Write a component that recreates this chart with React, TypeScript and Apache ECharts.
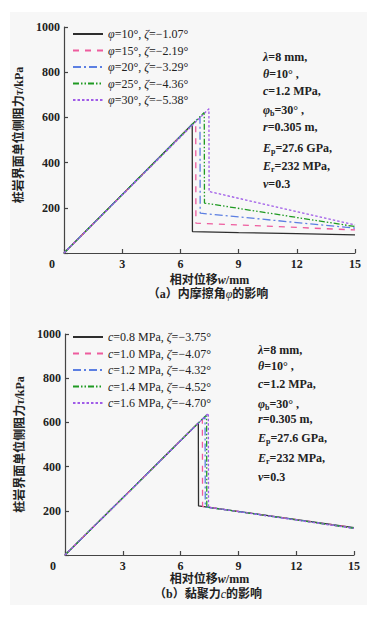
import React, { useEffect, useRef } from 'react';
import * as echarts from 'echarts';

// ---------- data ----------
const xTicks = [0, 3, 6, 9, 12, 15];
const yTicks = [0, 200, 400, 600, 800, 1000];

// (a) influence of internal friction angle φ
const phiNames = ['φ=10°, ζ=−1.07°', 'φ=15°, ζ=−2.19°', 'φ=20°, ζ=−3.29°', 'φ=25°, ζ=−4.36°', 'φ=30°, ζ=−5.38°'];
const phi10W = [0, 6.61, 6.62, 9, 12, 15];
const phi10Tau = [0, 570, 95, 90, 86, 80];
const phi15W = [0, 6.79, 6.8, 15];
const phi15Tau = [0, 585, 132, 102];
const phi20W = [0, 7.01, 7.02, 15];
const phi20Tau = [0, 604, 176, 110];
const phi25W = [0, 7.23, 7.24, 15];
const phi25Tau = [0, 622, 221, 117];
const phi30W = [0, 7.47, 7.48, 15];
const phi30Tau = [0, 638, 272, 124];

// (b) influence of cohesion c
const cNames = ['c=0.8 MPa, ζ=−3.75°', 'c=1.0 MPa, ζ=−4.07°', 'c=1.2 MPa, ζ=−4.32°', 'c=1.4 MPa, ζ=−4.52°', 'c=1.6 MPa, ζ=−4.70°'];
const c08W = [0, 6.92, 6.93, 15];
const c08Tau = [0, 597, 222, 124];
const c10W = [0, 7.13, 7.14, 15];
const c10Tau = [0, 615, 220, 123];
const c12W = [0, 7.27, 7.28, 15];
const c12Tau = [0, 627, 218, 122];
const c14W = [0, 7.35, 7.36, 15];
const c14Tau = [0, 634, 217, 121];
const c16W = [0, 7.44, 7.45, 15];
const c16Tau = [0, 641, 216, 120];

const paramLines = [
  '{i|λ}=8 mm,',
  '{i|θ}=10° ,',
  '{i|c}=1.2 MPa,',
  '{i|φ}{s|b}=30° ,',
  '{i|r}=0.305 m,',
  '{i|E}{s|p}=27.6 GPa,',
  '{i|E}{s|r}=232 MPa,',
  '{i|ν}=0.3',
];

// ---------- styles ----------
const colors = ['#2e2e2e', '#ee5c9e', '#5c7fe2', '#1f9a22', '#a05ce8'];
const dashes: any[] = ['solid', [6, 6], [8, 3, 2, 3], [6, 2, 1.5, 2, 1.5, 2], [2.5, 2]];
const SERIF = '"Liberation Serif", "Times New Roman", serif';
const MIX = '"Liberation Serif", "Noto Sans CJK SC", serif';

const zip = (a: number[], b: number[]) => a.map((v, i) => [v, b[i]]);

export default function App() {
  const ref = useRef<HTMLDivElement>(null);
  useEffect(() => {
    if (!ref.current) return;
    const chart = echarts.init(ref.current, null, { renderer: 'svg' });

    const phiData = [zip(phi10W, phi10Tau), zip(phi15W, phi15Tau), zip(phi20W, phi20Tau), zip(phi25W, phi25Tau), zip(phi30W, phi30Tau)];
    const cData = [zip(c08W, c08Tau), zip(c10W, c10Tau), zip(c12W, c12Tau), zip(c14W, c14Tau), zip(c16W, c16Tau)];

    const mkSeries = (names: string[], data: number[][][], idx: number) =>
      names.map((n, i) => ({
        name: n,
        type: 'line',
        xAxisIndex: idx,
        yAxisIndex: idx,
        data: data[i],
        symbol: 'circle',
        showSymbol: false,
        color: colors[i],
        lineStyle: { color: colors[i], width: 1.3, type: dashes[i] },
        z: 2 + i,
      }));

    const axisLineStyle = { color: '#444', width: 1.2 };
    const tickLabel = { fontFamily: SERIF, fontWeight: 'bold', fontSize: 12, color: '#222' };

    const mkX = (idx: number, gap: number) => ({
      type: 'value',
      gridIndex: idx,
      min: 0,
      max: 15,
      interval: 3,
      name: '相对位移{i|w}/mm',
      nameLocation: 'middle',
      nameGap: gap,
      nameTextStyle: {
        fontFamily: MIX, fontSize: 12, fontWeight: 'bold', color: '#222', lineHeight: 12,
        rich: { i: { fontFamily: SERIF, fontStyle: 'italic', fontSize: 12, color: '#222', lineHeight: 12 } },
      },
      axisLine: { lineStyle: axisLineStyle },
      axisTick: { inside: true, length: 4, lineStyle: axisLineStyle },
      splitLine: { show: false },
      axisLabel: {
        ...tickLabel,
        margin: 5,
        formatter: (v: number) => (v === 0 ? '{o|0}' : String(v)),
        rich: { o: { ...tickLabel, padding: [0, 24, 0, 0] } },
      },
    });
    const mkY = (idx: number, gap: number, pad: number[]) => ({
      type: 'value',
      gridIndex: idx,
      min: 0,
      max: 1000,
      interval: 200,
      name: '桩岩界面单位侧阻力{i|τ}/kPa',
      nameLocation: 'middle',
      nameRotate: 90,
      nameGap: gap,
      nameTextStyle: {
        fontFamily: MIX, fontSize: 12, fontWeight: 'bold', color: '#222', padding: pad,
        rich: { i: { fontFamily: SERIF, fontStyle: 'italic', fontSize: 12, color: '#222' } },
      },
      axisLine: { lineStyle: axisLineStyle },
      axisTick: { inside: true, length: 4, lineStyle: axisLineStyle },
      splitLine: { show: false },
      axisLabel: { ...tickLabel, margin: 4, formatter: (v: number) => (v === 0 ? '' : String(v)) },
    });

    const legendCommon = {
      orient: 'vertical',
      itemWidth: 30,
      itemHeight: 10,
      itemGap: 2.5,
      padding: 0,
      itemStyle: { opacity: 0 },
      textStyle: {
        fontFamily: SERIF, fontSize: 12, color: '#222', lineHeight: 14,
        rich: { i: { fontFamily: SERIF, fontStyle: 'italic', fontSize: 12, color: '#222', lineHeight: 14 } },
      },
      formatter: (n: string) => n.replace(/^([φc])/, '{i|$1}').replace(/ζ/g, '{i|ζ}'),
    };

    const richParam = {
      i: { fontFamily: SERIF, fontStyle: 'italic', fontSize: 12, fontWeight: 'bold', fill: '#222', lineHeight: 14 },
      s: { fontFamily: SERIF, fontSize: 8, fontWeight: 'bold', fill: '#222', lineHeight: 14, verticalAlign: 'bottom' },
    };
    const topParamY = [57, 74, 91, 110, 127, 148, 166, 184];
    const botParamY = [350, 366, 384, 404, 419, 438, 458, 477];
    const paramTexts = (x: number, ys: number[]) =>
      paramLines.map((t, i) => ({
        type: 'text',
        x,
        y: ys[i],
        silent: true,
        style: {
          text: t,
          fontFamily: SERIF,
          fontSize: 12,
          fontWeight: 'bold',
          fill: '#222',
          lineHeight: 14,
          verticalAlign: 'middle',
          rich: richParam,
        },
      }));

    const caption = (y: number, text: string) => ({
      type: 'text',
      x: 208,
      y,
      silent: true,
      style: {
        text,
        fontFamily: MIX,
        fontSize: 12,
        fontWeight: 'bold',
        fill: '#222',
        align: 'center',
        verticalAlign: 'middle',
        lineHeight: 12,
        rich: { i: { fontFamily: SERIF, fontStyle: 'italic', fontSize: 12, fill: '#222', lineHeight: 12 } },
      },
    });

    chart.setOption({
      animation: false,
      backgroundColor: '#ffffff',
      grid: [
        { left: 64, top: 27, width: 291, height: 226 },
        { left: 65, top: 334, width: 289, height: 221 },
      ],
      xAxis: [mkX(0, 21), mkX(1, 18)],
      yAxis: [mkY(0, 19, [0, 0, 0, 10]), mkY(1, 20, [0, 0, 0, 0])],
      legend: [
        { ...legendCommon, left: 72, top: 27, data: phiNames },
        { ...legendCommon, left: 72, top: 330, data: cNames },
      ],
      series: [...mkSeries(phiNames, phiData, 0), ...mkSeries(cNames, cData, 1)],
      graphic: [
        { type: 'rect', z: -10, silent: true, shape: { x: 10, y: 12, width: 357, height: 593 }, style: { fill: '#f7f7f7' } },
        ...paramTexts(263, topParamY),
        ...paramTexts(258, botParamY),
        caption(294, '（a）内摩擦角{i|φ}的影响'),
        caption(594, '（b）黏聚力{i|c}的影响'),
      ],
    });
    return () => chart.dispose();
  }, []);
  return <div ref={ref} style={{ position: 'absolute', left: 0, top: 0, width: 378, height: 617 }} />;
}
